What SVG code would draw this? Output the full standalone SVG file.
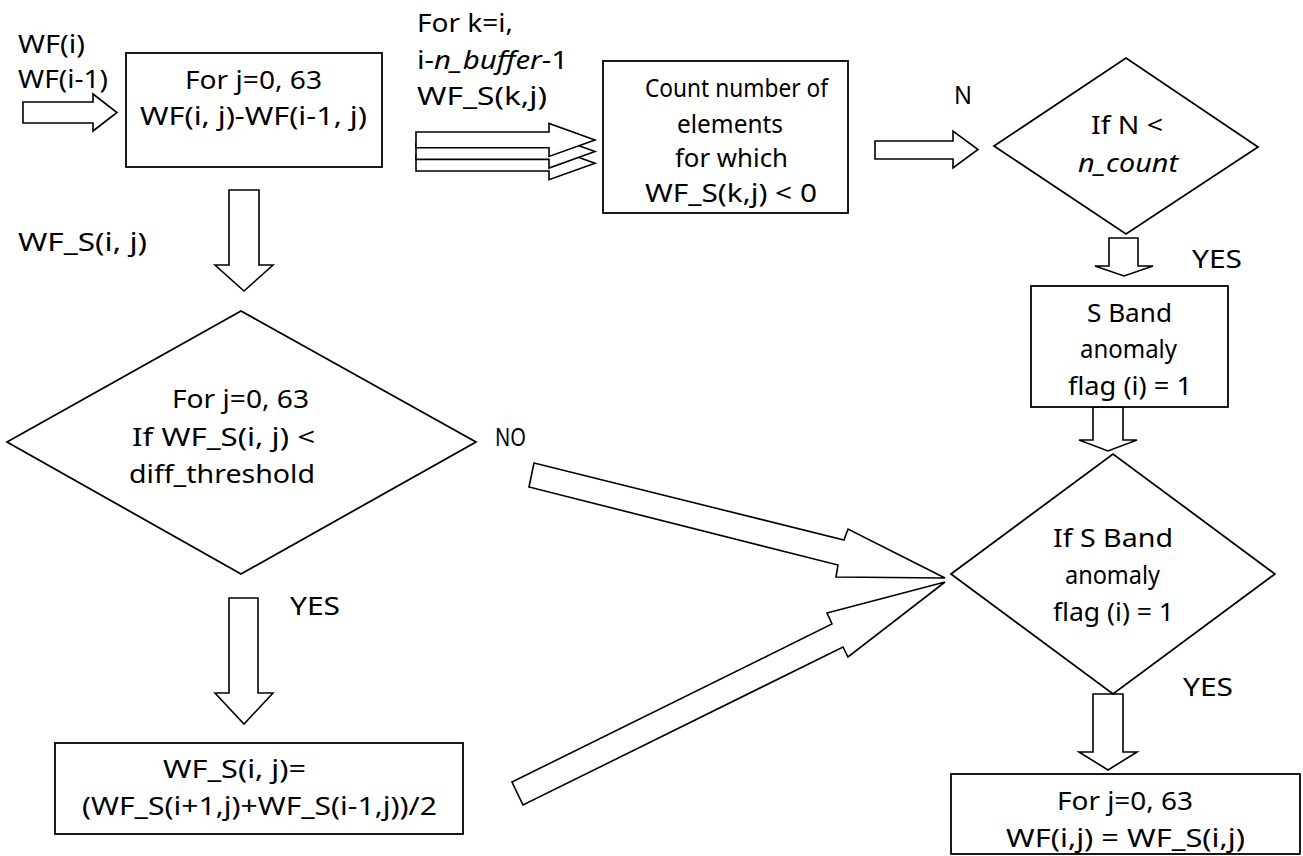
<svg xmlns="http://www.w3.org/2000/svg" width="1303" height="856" viewBox="0 0 1303 856">
<style>
.shape{fill:#fff;stroke:#000;stroke-width:1.8}
.arr{fill:#fff;stroke:#000;stroke-width:1.6;stroke-linejoin:miter}
text{font-family:"Noto Sans","Liberation Sans",sans-serif;font-size:25px;fill:#000}
.it{font-style:italic}
</style>
<rect width="1303" height="856" fill="#fff"/>
<g id="connectors">
<polygon class="arr" points="23,102 93,102 93,94 117,112.5 93,131 93,123 23,123"/>
<polygon class="arr" points="416,155.3 549,155.3 549,146.7 595,163.2 549,179.7 549,171 416,171"/>
<polygon class="arr" points="416,143.6 549,143.6 549,135 595,151.5 549,168 549,159.4 416,159.4"/>
<polygon class="arr" points="416,132 549,132 549,123.4 595,139.9 549,156.4 549,147.8 416,147.8"/>
<polygon class="arr" points="875,141 953,141 953,131 978,149.5 953,168 953,159 875,159"/>
<polygon class="arr" points="229,190 259,190 259,265 273,265 244,291 215,265 229,265"/>
<polygon class="arr" points="229,598 258,598 258,693 273,693 244,724 215,693 229,693"/>
<polygon class="arr" points="1109,238 1138,238 1138,266 1153,266 1124,276 1095,266 1109,266"/>
<polygon class="arr" points="1093,407 1123,407 1123,440 1137,440 1108,451 1079,440 1093,440"/>
<polygon class="arr" points="1093,694 1123,694 1123,752 1137,752 1108,770 1079,752 1093,752"/>
<polygon class="arr" points="534,463 844,540 848,529 945,578 836,577 838,565 529,487"/>
<polygon class="arr" points="512,782 832,624 827,613 945,582 848,657 843,647 523,805"/>
</g>
<g id="labels">
<text x="18" y="53" textLength="67" lengthAdjust="spacingAndGlyphs">WF(i)</text>
<text x="18" y="88" textLength="90" lengthAdjust="spacingAndGlyphs">WF(i-1)</text>
<text x="417" y="32" textLength="96" lengthAdjust="spacingAndGlyphs">For k=i,</text>
<text x="417" y="69" textLength="151" lengthAdjust="spacingAndGlyphs">i-<tspan class="it">n_buffer</tspan>-1</text>
<text x="417" y="105" textLength="130" lengthAdjust="spacingAndGlyphs">WF_S(k,j)</text>
<text x="954" y="104" textLength="18" lengthAdjust="spacingAndGlyphs">N</text>
<text x="1192" y="268" textLength="50" lengthAdjust="spacingAndGlyphs">YES</text>
<text x="18" y="251" textLength="129" lengthAdjust="spacingAndGlyphs">WF_S(i, j)</text>
<text x="495" y="446" textLength="31" lengthAdjust="spacingAndGlyphs">NO</text>
<text x="290" y="615" textLength="50" lengthAdjust="spacingAndGlyphs">YES</text>
<text x="1183" y="696" textLength="50" lengthAdjust="spacingAndGlyphs">YES</text>
</g>
<g id="node-diff">
<rect class="shape" x="126" y="53" width="256" height="114"/>
<text x="185" y="89" textLength="137" lengthAdjust="spacingAndGlyphs">For j=0, 63</text>
<text x="140" y="125" textLength="227" lengthAdjust="spacingAndGlyphs">WF(i, j)-WF(i-1, j)</text>
</g>
<g id="node-count">
<rect class="shape" x="603" y="61" width="245" height="152"/>
<text x="645" y="97" textLength="183" lengthAdjust="spacingAndGlyphs">Count number of</text>
<text x="677" y="133" textLength="106" lengthAdjust="spacingAndGlyphs">elements</text>
<text x="675" y="167" textLength="113" lengthAdjust="spacingAndGlyphs">for which</text>
<text x="645" y="202" textLength="172" lengthAdjust="spacingAndGlyphs">WF_S(k,j) &lt; 0</text>
</g>
<g id="node-ncount">
<polygon class="shape" points="994,146 1126,58 1258,147 1126,234"/>
<text x="1091" y="134" textLength="72" lengthAdjust="spacingAndGlyphs">If N &lt;</text>
<text x="1078" y="172" textLength="100" lengthAdjust="spacingAndGlyphs" class="it">n_count</text>
</g>
<g id="node-flag">
<rect class="shape" x="1031" y="286" width="197" height="121"/>
<text x="1087" y="322" textLength="85" lengthAdjust="spacingAndGlyphs">S Band</text>
<text x="1080" y="358" textLength="97" lengthAdjust="spacingAndGlyphs">anomaly</text>
<text x="1068" y="395" textLength="124" lengthAdjust="spacingAndGlyphs">flag (i) = 1</text>
</g>
<g id="node-threshold">
<polygon class="shape" points="7,442 241,311 476,442 241,574"/>
<text x="172" y="408" textLength="137" lengthAdjust="spacingAndGlyphs">For j=0, 63</text>
<text x="132" y="446" textLength="183" lengthAdjust="spacingAndGlyphs">If WF_S(i, j) &lt;</text>
<text x="129" y="483" textLength="186" lengthAdjust="spacingAndGlyphs">diff_threshold</text>
</g>
<g id="node-average">
<rect class="shape" x="55" y="743" width="408" height="91"/>
<text x="163" y="778" textLength="143" lengthAdjust="spacingAndGlyphs">WF_S(i, j)=</text>
<text x="82" y="815" textLength="355" lengthAdjust="spacingAndGlyphs">(WF_S(i+1,j)+WF_S(i-1,j))/2</text>
</g>
<g id="node-ifflag">
<polygon class="shape" points="951,574 1113,454 1275,574 1113,694"/>
<text x="1053" y="547" textLength="120" lengthAdjust="spacingAndGlyphs">If S Band</text>
<text x="1065" y="584" textLength="95" lengthAdjust="spacingAndGlyphs">anomaly</text>
<text x="1053" y="621" textLength="121" lengthAdjust="spacingAndGlyphs">flag (i) = 1</text>
</g>
<g id="node-copy">
<rect class="shape" x="951" y="774" width="349" height="80"/>
<text x="1057" y="810" textLength="136" lengthAdjust="spacingAndGlyphs">For j=0, 63</text>
<text x="1006" y="847" textLength="239" lengthAdjust="spacingAndGlyphs">WF(i,j) = WF_S(i,j)</text>
</g>
</svg>
